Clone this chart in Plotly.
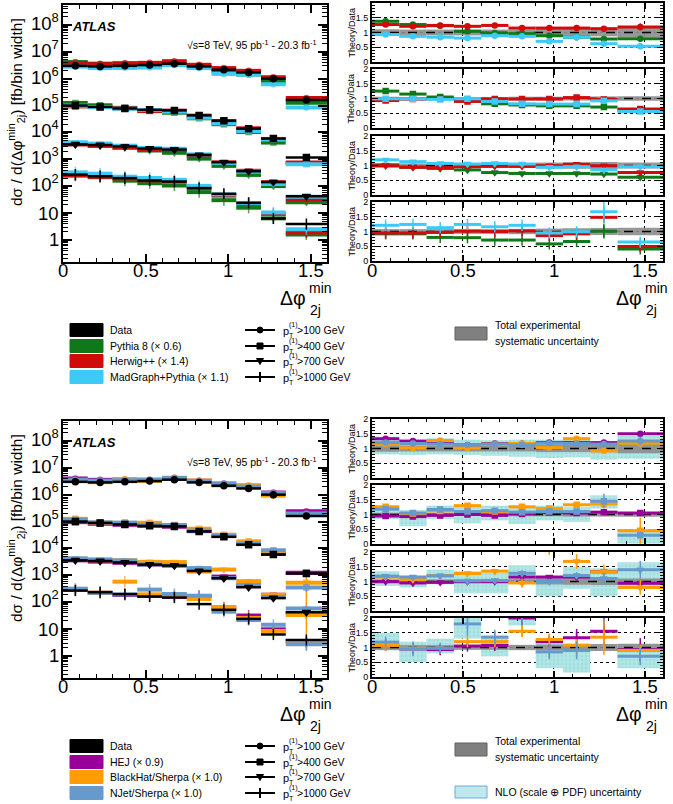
import plotly.graph_objects as go

W, H = 673, 804
FONT = "Liberation Sans, Arial, Helvetica, sans-serif"

# ---------------- data ----------------
EDGES = [0.0, 0.15, 0.30, 0.45, 0.60, 0.75, 0.90, 1.05, 1.20, 1.35, 1.60]
CUT_LABELS = [">100 GeV", ">400 GeV", ">700 GeV", ">1000 GeV"]
X_TICKS = [0, 0.5, 1, 1.5]
X_TICK_TEXT = ["0", "0.5", "1", "1.5"]
Y_DECADES = [0, 1, 2, 3, 4, 5, 6, 7, 8]

DATA_PT100 = [3.0e6, 2.85e6, 3.0e6, 3.2e6, 3.6e6, 2.85e6, 2.15e6, 1.7e6, 1.0e6, 1.6e5]
DATA_PT400 = [1.0e5, 8.9e4, 7.8e4, 6.9e4, 6.6e4, 4.3e4, 2.7e4, 1.38e4, 5.9e3, 1.18e3]
DATA_PT700 = [3.6e3, 3.4e3, 3.0e3, 2.5e3, 2.3e3, 1.45e3, 780, 360, 142, 42]
DATA_PT1000 = [270, 235, 200, 163, 149, 85, 52, 24, 6.3, 3.9]

SYS_PT100 = [0.11, 0.10, 0.10, 0.10, 0.10, 0.10, 0.12, 0.12, 0.13, 0.16]
SYS_PT400 = [0.06, 0.05, 0.05, 0.05, 0.05, 0.06, 0.06, 0.07, 0.07, 0.08]
SYS_PT700 = [0.07, 0.07, 0.07, 0.07, 0.07, 0.08, 0.10, 0.11, 0.12, 0.10]
SYS_PT1000 = [0.08, 0.08, 0.08, 0.08, 0.08, 0.09, 0.10, 0.11, 0.12, 0.13]

# Theory/Data ratios, one list per pT cut (100, 400, 700, 1000 GeV)
PYTHIA8_RATIO = [
    [1.38, 1.27, 1.23, 1.04, 0.98, 0.96, 0.89, 0.84, 0.78, 0.79],
    [1.25, 1.15, 1.05, 0.96, 0.82, 0.78, 0.75, 0.75, 0.71, 0.60],
    [1.02, 0.94, 0.90, 0.85, 0.76, 0.73, 0.73, 0.73, 0.71, 0.60],
    [0.92, 0.92, 0.80, 0.79, 0.71, 0.71, 0.58, 0.66, 1.01, 0.41],
]
PYTHIA8_ERR = [
    [0.02, 0.02, 0.02, 0.02, 0.02, 0.02, 0.02, 0.03, 0.03, 0.05],
    [0.02, 0.02, 0.02, 0.02, 0.02, 0.02, 0.03, 0.03, 0.04, 0.06],
    [0.03, 0.03, 0.03, 0.03, 0.03, 0.03, 0.04, 0.04, 0.05, 0.08],
    [0.04, 0.04, 0.04, 0.04, 0.04, 0.05, 0.06, 0.07, 0.25, 0.10],
]
HERWIG_RATIO = [
    [1.27, 1.21, 1.24, 1.21, 1.24, 1.15, 1.15, 1.15, 1.13, 1.19],
    [0.93, 0.98, 1.00, 0.90, 0.98, 0.98, 0.98, 1.03, 0.97, 0.64],
    [0.99, 0.94, 0.93, 0.96, 0.97, 0.97, 0.99, 1.04, 0.99, 0.76],
    [0.95, 0.95, 0.97, 1.01, 1.00, 1.02, 0.86, 0.92, 1.48, 0.49],
]
HERWIG_ERR = [
    [0.03, 0.03, 0.03, 0.03, 0.03, 0.03, 0.03, 0.03, 0.04, 0.12],
    [0.03, 0.03, 0.03, 0.03, 0.03, 0.03, 0.03, 0.04, 0.04, 0.06],
    [0.04, 0.04, 0.04, 0.04, 0.04, 0.04, 0.05, 0.05, 0.06, 0.08],
    [0.05, 0.05, 0.05, 0.05, 0.05, 0.05, 0.06, 0.07, 0.06, 0.08],
]
MADGRAPH_RATIO = [
    [0.93, 0.87, 0.84, 0.81, 0.89, 0.87, 0.70, 0.84, 0.62, 0.53],
    [0.99, 0.99, 0.97, 0.99, 0.90, 0.82, 0.81, 0.81, 0.92, 0.56],
    [1.19, 1.13, 1.07, 1.05, 1.07, 1.05, 0.94, 0.96, 0.85, 0.96],
    [1.21, 1.24, 1.13, 1.24, 1.16, 1.21, 0.95, 0.99, 1.67, 0.64],
]
MADGRAPH_ERR = [
    [0.03, 0.03, 0.03, 0.03, 0.03, 0.03, 0.04, 0.04, 0.05, 0.10],
    [0.03, 0.03, 0.03, 0.03, 0.03, 0.04, 0.04, 0.05, 0.06, 0.08],
    [0.05, 0.05, 0.05, 0.05, 0.05, 0.05, 0.06, 0.06, 0.08, 0.10],
    [0.06, 0.06, 0.06, 0.06, 0.06, 0.07, 0.08, 0.10, 0.40, 0.15],
]

HEJ_RATIO = [
    [1.33, 1.25, 1.20, 1.12, 1.17, 1.16, 1.20, 1.20, 1.20, 1.50],
    [0.95, 0.93, 0.97, 1.00, 0.97, 1.02, 1.07, 1.05, 1.08, 1.05],
    [1.00, 0.95, 0.97, 1.00, 1.00, 1.15, 1.15, 1.15, 1.33, 0.94],
    [1.07, 0.95, 0.93, 1.05, 1.07, 2.00, 1.20, 1.33, 1.55, 0.92],
]
HEJ_ERR = [
    [0.03, 0.03, 0.03, 0.03, 0.03, 0.03, 0.03, 0.03, 0.04, 0.08],
    [0.03, 0.03, 0.03, 0.03, 0.03, 0.03, 0.04, 0.04, 0.05, 0.06],
    [0.04, 0.04, 0.04, 0.05, 0.05, 0.06, 0.06, 0.07, 0.10, 0.12],
    [0.06, 0.07, 0.07, 0.08, 0.10, 0.25, 0.20, 0.30, 0.45, 0.40],
]
BLACKHAT_RATIO = [
    [1.15, 1.02, 1.27, 1.02, 1.15, 1.17, 1.03, 1.33, 0.92, 1.18],
    [1.26, 1.03, 1.12, 1.30, 1.10, 1.26, 1.20, 1.33, 1.36, 0.45],
    [1.15, 1.07, 1.20, 1.27, 1.35, 0.95, 2.10, 1.68, 1.33, 0.80],
    [1.07, 0.97, 2.90, 1.20, 1.20, 1.55, 1.27, 1.08, 1.35, 0.90],
]
BLACKHAT_ERR = [
    [0.04, 0.04, 0.05, 0.05, 0.05, 0.05, 0.06, 0.06, 0.06, 0.15],
    [0.05, 0.05, 0.05, 0.05, 0.05, 0.06, 0.06, 0.07, 0.10, 0.445],
    [0.06, 0.06, 0.07, 0.07, 0.08, 0.15, 0.20, 0.25, 0.25, 0.25],
    [0.10, 0.10, 0.30, 0.10, 0.15, 0.20, 0.20, 0.20, 0.60, 0.20],
]
NJET_RATIO = [
    [1.20, 1.17, 1.15, 1.12, 1.15, 1.12, 1.18, 1.17, 1.15, 1.25],
    [1.18, 1.05, 1.17, 1.10, 1.13, 1.08, 1.10, 1.10, 1.45, 0.30],
    [1.18, 1.15, 1.19, 1.02, 1.03, 1.28, 1.00, 1.20, 1.10, 1.40],
    [1.18, 0.95, 0.97, 1.80, 1.35, 2.05, 0.85, 0.90, 2.30, 0.70],
]
NJET_ERR = [
    [0.04, 0.04, 0.04, 0.05, 0.05, 0.05, 0.05, 0.06, 0.06, 0.15],
    [0.05, 0.05, 0.05, 0.05, 0.05, 0.05, 0.06, 0.07, 0.25, 0.10],
    [0.06, 0.07, 0.07, 0.07, 0.08, 0.10, 0.10, 0.12, 0.20, 0.30],
    [0.12, 0.25, 0.15, 0.40, 0.25, 0.30, 0.25, 0.30, 0.40, 0.30],
]
NLO_LOW = [
    [0.80, 0.78, 0.80, 0.78, 0.75, 0.72, 0.68, 0.70, 0.62, 0.65],
    [0.85, 0.60, 0.85, 0.70, 0.80, 0.68, 0.80, 0.75, 1.20, 0.02],
    [0.85, 0.80, 0.90, 0.60, 0.60, 1.00, 0.50, 0.75, 0.50, 0.85],
    [0.90, 0.50, 0.80, 1.30, 0.70, 1.75, 0.30, 0.15, 2.10, 0.30],
]
NLO_HIGH = [
    [1.40, 1.30, 1.35, 1.30, 1.28, 1.30, 1.30, 1.38, 1.20, 1.42],
    [1.30, 1.15, 1.30, 1.30, 1.30, 1.30, 1.30, 1.25, 1.65, 0.50],
    [1.35, 1.20, 1.40, 1.35, 1.30, 1.55, 1.20, 1.50, 1.45, 1.65],
    [1.50, 1.20, 1.30, 2.00, 1.40, 2.00, 1.20, 1.05, 2.50, 1.10],
]

DATA = [DATA_PT100, DATA_PT400, DATA_PT700, DATA_PT1000]
SYS = [SYS_PT100, SYS_PT400, SYS_PT700, SYS_PT1000]
CENTERS = [(a + b) / 2 for a, b in zip(EDGES[:-1], EDGES[1:])]
WIDTHS = [b - a for a, b in zip(EDGES[:-1], EDGES[1:])]

SYMBOLS = ["circle", "square", "triangle-down", "line-ns"]
DATA_SIZES = [6, 6, 7, 8]
MODEL_SIZES = [5, 5, 6, 8]

TOP_MODELS = [
    ("Pythia 8 (\u00d7 0.6)", "#11781a", PYTHIA8_RATIO, PYTHIA8_ERR),
    ("Herwig++ (\u00d7 1.4)", "#d10a0a", HERWIG_RATIO, HERWIG_ERR),
    ("MadGraph+Pythia (\u00d7 1.1)", "#3ccaf6", MADGRAPH_RATIO, MADGRAPH_ERR),
]
BOT_MODELS = [
    ("HEJ (\u00d7 0.9)", "#990099", HEJ_RATIO, HEJ_ERR),
    ("BlackHat/Sherpa (\u00d7 1.0)", "#ff9c00", BLACKHAT_RATIO, BLACKHAT_ERR),
    ("NJet/Sherpa (\u00d7 1.0)", "#6699cc", NJET_RATIO, NJET_ERR),
]


def X(p):
    return p / W


def Y(p):
    return 1 - p / H


def keys(i):
    s = "" if i == 1 else str(i)
    return "xaxis" + s, "yaxis" + s, "x" + s, "y" + s


def segments(vals):
    xs, ys = [], []
    for lo, hi, v in zip(EDGES[:-1], EDGES[1:], vals):
        xs += [lo, hi, None]
        ys += [v, v, None]
    return xs, ys


fig = go.Figure()
layout = dict(
    width=W, height=H, margin=dict(l=0, r=0, t=0, b=0),
    paper_bgcolor="white", plot_bgcolor="white", showlegend=False,
    barmode="overlay", font=dict(family=FONT, color="black"),
)
annotations = []
shapes = []

XBASE = dict(range=[0, 1.6], showline=True, linecolor="black", linewidth=2,
             mirror="allticks", ticks="inside", tickcolor="black", tickwidth=1.5,
             tick0=0, dtick=0.5, zeroline=False, automargin=False, fixedrange=True,
             showticklabels=False)


def ann(text, x, y, size, xa="left", ya="middle", angle=0, xref="paper", yref="paper"):
    annotations.append(dict(text=text,
                            x=X(x) if xref == "paper" else x,
                            y=Y(y) if yref == "paper" else y,
                            xref=xref, yref=yref,
                            showarrow=False, xanchor=xa, yanchor=ya, textangle=angle,
                            font=dict(size=size, family=FONT, color="black")))


def x_tick_labels(xr, ypix):
    for v, t in zip(X_TICKS, X_TICK_TEXT):
        ann(t, v, ypix, 18.5, xa="center", xref=xr)


def build_half(off, main_id, ratio_ids, models, with_nlo):
    # ---- main panel ----
    xk, yk, xr, yr = keys(main_id)
    layout[xk] = dict(XBASE, domain=[X(63), X(327)], anchor=yr, ticklen=8,
                      minor=dict(ticks="inside", ticklen=4, dtick=0.1, tick0=0,
                                 tickcolor="black", tickwidth=1))
    layout[yk] = dict(type="log", range=[-0.82, 8.74], domain=[Y(262 + off), Y(5 + off)],
                      anchor=xr, showline=True, linecolor="black", linewidth=2,
                      mirror="allticks", ticks="inside", ticklen=9, tickwidth=1.5,
                      tickcolor="black", dtick=1, tick0=0, showticklabels=False,
                      minor=dict(ticks="inside", ticklen=5, tickcolor="black", tickwidth=1),
                      zeroline=False, showgrid=False, automargin=False, fixedrange=True)
    x_tick_labels(xr, 270 + off)
    for n in Y_DECADES:
        txt = "1" if n == 0 else ("10" if n == 1 else "10<sup>%d</sup>" % n)
        ann(txt, X(61) if False else 61, n, 18.5, xa="right", yref=yr)
        annotations[-1]["y"] = n
        annotations[-1]["yshift"] = 0 if n < 2 else 3
    for name, col, ratio, err in models:
        xs, ys = [], []
        mx, my, me, msym, msz = [], [], [], [], []
        for c in range(4):
            vals = [d * r for d, r in zip(DATA[c], ratio[c])]
            sx, sy = segments(vals)
            xs += sx
            ys += sy
            mx += CENTERS
            my += vals
            me += [v * e / r for v, e, r in zip(vals, err[c], ratio[c])]
            msym += [SYMBOLS[c]] * 10
            msz += [MODEL_SIZES[c]] * 10
        fig.add_trace(go.Scatter(x=xs, y=ys, mode="lines", xaxis=xr, yaxis=yr,
                                 line=dict(color=col, width=4), hoverinfo="skip"))
        fig.add_trace(go.Scatter(x=mx, y=my, mode="markers", xaxis=xr, yaxis=yr,
                                 marker=dict(symbol=msym, size=msz, color=col,
                                             line=dict(color=col, width=1.5)),
                                 error_y=dict(type="data", array=me, color=col,
                                              thickness=1.5, width=0)))
    for c in range(4):
        sx, sy = segments(DATA[c])
        fig.add_trace(go.Scatter(x=sx, y=sy, mode="lines", xaxis=xr, yaxis=yr,
                                 line=dict(color="black", width=2.5)))
        fig.add_trace(go.Scatter(x=CENTERS, y=DATA[c], mode="markers", xaxis=xr, yaxis=yr,
                                 marker=dict(symbol=SYMBOLS[c], size=DATA_SIZES[c],
                                             color="black",
                                             line=dict(color="black", width=1.5))))

    # ---- ratio panels ----
    panels = [(3, 62), (69, 128), (136, 195), (202, 261)]
    for c, rid in enumerate(ratio_ids):
        xk, yk, xr, yr = keys(rid)
        top, bot = panels[c]
        top += off
        bot += off
        layout[xk] = dict(XBASE, domain=[X(372), X(663)], anchor=yr, ticklen=6,
                          showgrid=True, gridcolor="black",
                          griddash="dot", gridwidth=1,
                          minor=dict(ticks="inside", ticklen=3, dtick=0.1, tick0=0,
                                     tickcolor="black", tickwidth=1))
        layout[yk] = dict(range=[0, 2], domain=[Y(bot), Y(top)], anchor=xr,
                          showline=True, linecolor="black", linewidth=2, mirror="allticks",
                          ticks="inside", ticklen=6, tickwidth=1.2, tickcolor="black",
                          tick0=0, dtick=0.5,
                          minor=dict(ticks="inside", ticklen=3, dtick=0.1, tick0=0,
                                     tickcolor="black", tickwidth=1),
                          showgrid=True, gridcolor="black", griddash="dot", gridwidth=1,
                          zeroline=False, automargin=False, fixedrange=True,
                          tickfont=dict(size=9, family=FONT, color="black"))
        if c == 3:
            x_tick_labels(xr, 270 + off)
        ann("Theory/Data", 351, (top + bot) / 2, 9, xa="center", angle=-90)
        if with_nlo:
            fig.add_trace(go.Bar(x=CENTERS, y=[h - l for l, h in zip(NLO_LOW[c], NLO_HIGH[c])],
                                 base=NLO_LOW[c], width=WIDTHS, xaxis=xr, yaxis=yr,
                                 marker=dict(color="#b4e6e6", line=dict(width=0),
                                             pattern=dict(shape=".", fgcolor="#8ed6d6",
                                                          size=4, solidity=0.4))))
        fig.add_trace(go.Bar(x=CENTERS, y=[2 * e for e in SYS[c]],
                             base=[1 - e for e in SYS[c]], width=WIDTHS, xaxis=xr, yaxis=yr,
                             marker=dict(color="#8c8c8c", line=dict(width=0)), opacity=0.9))
        fig.add_trace(go.Scatter(x=[0, 1.6], y=[1, 1], mode="lines", xaxis=xr, yaxis=yr,
                                 line=dict(color="black", width=1.5, dash="dash")))
        for name, col, ratio, err in models:
            sx, sy = segments(ratio[c])
            fig.add_trace(go.Scatter(x=sx, y=sy, mode="lines", xaxis=xr, yaxis=yr,
                                     line=dict(color=col, width=3)))
            fig.add_trace(go.Scatter(x=CENTERS, y=ratio[c], mode="markers", xaxis=xr,
                                     yaxis=yr,
                                     marker=dict(symbol=SYMBOLS[c], size=MODEL_SIZES[c],
                                                 color=col, line=dict(color=col, width=1.5)),
                                     error_y=dict(type="data", array=err[c], color=col,
                                                  thickness=1.5, width=0)))

    # ---- texts inside main ----
    ann("<b><i>ATLAS</i></b>", 70, 26 + off, 13)
    ann("\u221as=8 TeV, 95 pb<sup>-1</sup> - 20.3 fb<sup>-1</sup>", 318, 45 + off, 10.5,
        xa="right")
    # y title
    ann("d\u03c3 / d(\u0394\u03c6<sup>min</sup><sub>2j</sub>) [fb/bin width]", 16, 112 + off,
        15.5, xa="center", angle=-90)
    # x titles
    for xr_edge in (307, 643):
        ann("\u0394\u03c6", xr_edge + 1, 298 + off, 19.5, xa="right")
        ann("min", xr_edge, 288 + off, 14)
        ann("2j", xr_edge + 1, 310 + off, 14)

    # ---- legend ----
    rows = [330 + off, 346 + off, 361 + off, 377 + off]
    entries = [("Data", "black")] + [(m[0], m[1]) for m in models]
    for (label, col), ry in zip(entries, rows):
        shapes.append(dict(type="rect", xref="paper", yref="paper",
                           x0=X(70), x1=X(103), y0=Y(ry + 6.5), y1=Y(ry - 6.5),
                           fillcolor=col, line=dict(color=col, width=1)))
        ann(label, 108, ry, 10.5)
    mx = 260
    for c, ry in enumerate(rows):
        shapes.append(dict(type="line", xref="paper", yref="paper", x0=X(245), x1=X(275),
                           y0=Y(ry), y1=Y(ry), line=dict(color="black", width=2)))
        if c == 0:
            shapes.append(dict(type="circle", xref="paper", yref="paper",
                               x0=X(mx - 3), x1=X(mx + 3), y0=Y(ry + 3), y1=Y(ry - 3),
                               fillcolor="black", line=dict(color="black", width=1)))
        elif c == 1:
            shapes.append(dict(type="rect", xref="paper", yref="paper",
                               x0=X(mx - 3), x1=X(mx + 3), y0=Y(ry + 3), y1=Y(ry - 3),
                               fillcolor="black", line=dict(color="black", width=1)))
        elif c == 2:
            path = "M %f %f L %f %f L %f %f Z" % (X(mx - 3.5), Y(ry - 2.5), X(mx + 3.5),
                                                  Y(ry - 2.5), X(mx), Y(ry + 3.5))
            shapes.append(dict(type="path", xref="paper", yref="paper", path=path,
                               fillcolor="black", line=dict(color="black", width=1)))
        else:
            shapes.append(dict(type="line", xref="paper", yref="paper", x0=X(mx), x1=X(mx),
                               y0=Y(ry + 5), y1=Y(ry - 5), line=dict(color="black", width=2)))
        ann("p", 281, ry + 1, 11)
        ann("(1)", 287, ry - 5, 7)
        ann("T", 287, ry + 5, 7)
        ann(CUT_LABELS[c], 295, ry, 10.5)

    shapes.append(dict(type="rect", xref="paper", yref="paper", x0=X(455), x1=X(487),
                       y0=Y(rows[0] + 10), y1=Y(rows[0] - 3), fillcolor="#808080",
                       line=dict(color="#606060", width=1)))
    ann("Total experimental", 493, rows[0] - 5, 10.5)
    ann("systematic uncertainty", 493, rows[0] + 11, 10.5)
    if with_nlo:
        shapes.append(dict(type="rect", xref="paper", yref="paper", x0=X(455), x1=X(487),
                           y0=Y(rows[3] + 5), y1=Y(rows[3] - 7), fillcolor="#bfe9ee",
                           line=dict(color="#6fa8dc", width=1)))
        ann("NLO (scale \u2295 PDF) uncertainty", 493, rows[3] - 1, 10.5)


build_half(0, 1, [2, 3, 4, 5], TOP_MODELS, False)
build_half(416, 6, [7, 8, 9, 10], BOT_MODELS, True)

layout["annotations"] = annotations
layout["shapes"] = shapes
fig.update_layout(**layout)
fig.write_html("out.html")
